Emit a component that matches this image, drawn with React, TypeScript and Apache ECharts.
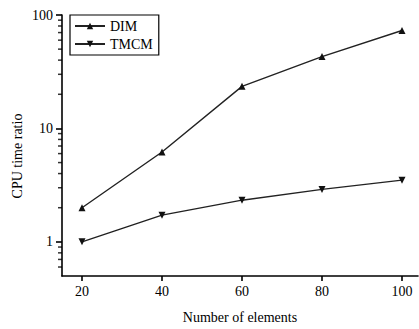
import React, { useEffect, useRef } from "react";
import * as echarts from "echarts";

const elements = [20, 40, 60, 80, 100];
const dimRatio = [2.0, 6.2, 23.5, 43, 73];
const tmcmRatio = [1.0, 1.72, 2.33, 2.9, 3.5];
const xTicks = [20, 40, 60, 80, 100];
const yMajor = [1, 10, 100];
const yMinor = [0.6, 0.7, 0.8, 0.9, 2, 3, 4, 5, 6, 7, 8, 9, 20, 30, 40, 50, 60, 70, 80, 90];

const FONT = "Liberation Serif";
const X_MIN = 15;

export default function App() {
  const ref = useRef<HTMLDivElement>(null);
  useEffect(() => {
    if (!ref.current) return;
    const chart = echarts.init(ref.current, undefined, { renderer: "svg" });
    const axisLine = { show: true, lineStyle: { color: "#000", width: 1.6 } };
    chart.setOption({
      animation: false,
      backgroundColor: "#fff",
      grid: { left: 62, right: 1, top: 15, bottom: 50 },
      legend: {
        left: 70,
        top: 15,
        orient: "vertical",
        padding: [4, 6, 4, 4],
        itemGap: 4,
        itemWidth: 30,
        itemHeight: 8,
        borderColor: "#000",
        borderWidth: 1.2,
        textStyle: { fontFamily: FONT, fontSize: 14, color: "#000" },
        data: ["DIM", "TMCM"],
      },
      xAxis: {
        type: "value",
        min: X_MIN,
        max: 104,
        axisLine,
        splitLine: { show: false },
        axisTick: { show: true, length: 5, customValues: xTicks, lineStyle: { color: "#000", width: 1.6 } },
        axisLabel: { customValues: xTicks, margin: 8, fontFamily: FONT, fontSize: 14, color: "#000" },
        name: "Number of elements",
        nameLocation: "middle",
        nameGap: 34,
        nameTextStyle: { fontFamily: FONT, fontSize: 14, color: "#000" },
      },
      yAxis: {
        type: "log",
        min: 0.5,
        max: 100,
        axisLine,
        splitLine: { show: false },
        axisTick: { show: true, length: 6, customValues: yMajor, lineStyle: { color: "#000", width: 1.6 } },
        axisLabel: { customValues: yMajor, margin: 9, fontFamily: FONT, fontSize: 14, color: "#000" },
      },
      graphic: [
        {
          type: "text",
          x: 17,
          y: 156,
          rotation: Math.PI / 2,
          style: {
            text: "CPU time ratio",
            fontFamily: FONT,
            fontSize: 14,
            fill: "#000",
            align: "center",
            verticalAlign: "middle",
          },
        },
      ],
      series: [
        {
          name: "minor",
          type: "scatter",
          clip: false,
          silent: true,
          data: yMinor.map((v) => [X_MIN, v]),
          symbol: "rect",
          symbolSize: [4, 1.5],
          symbolOffset: [-2, 0],
          itemStyle: { color: "#000" },
          z: 10,
        },
        {
          name: "DIM",
          type: "line",
          data: elements.map((x, i) => [x, dimRatio[i]]),
          symbol: "triangle",
          symbolSize: 7,
          lineStyle: { color: "#222", width: 1.4 },
          itemStyle: { color: "#111" },
        },
        {
          name: "TMCM",
          type: "line",
          data: elements.map((x, i) => [x, tmcmRatio[i]]),
          symbol: "triangle",
          symbolRotate: 180,
          symbolSize: 7,
          lineStyle: { color: "#222", width: 1.4 },
          itemStyle: { color: "#111" },
        },
      ],
    });
    return () => chart.dispose();
  }, []);
  return <div ref={ref} style={{ position: "absolute", left: 0, top: 0, width: 419, height: 329 }} />;
}
